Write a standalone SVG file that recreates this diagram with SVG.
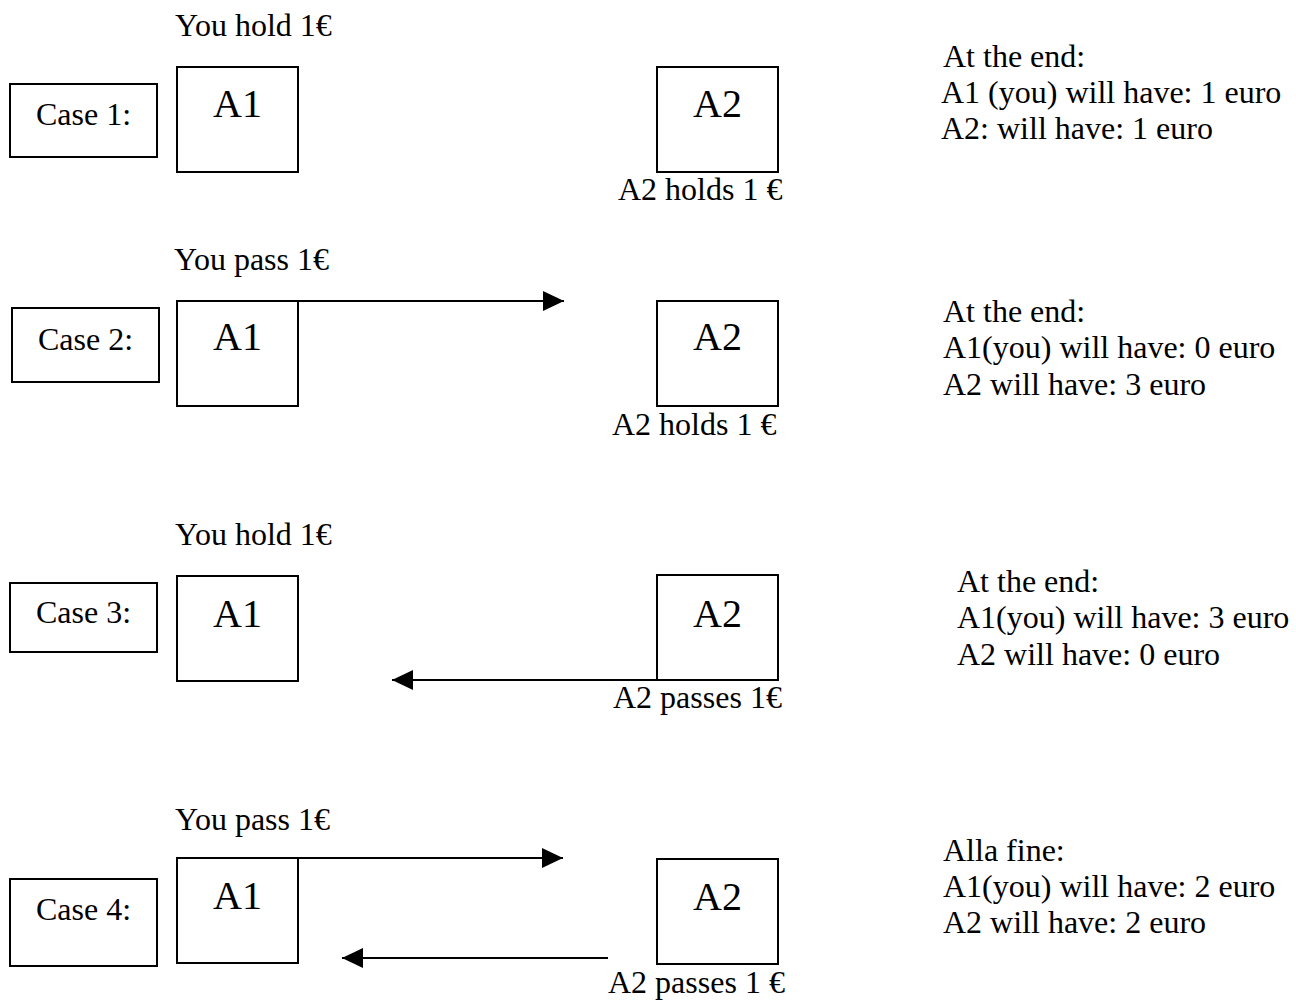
<svg xmlns="http://www.w3.org/2000/svg" width="1296" height="1000" viewBox="0 0 1296 1000">
<style>
  text { font-family: "Liberation Serif", "Times New Roman", serif; font-size: 32px; fill: #000; }
  .big { font-size: 40px; text-anchor: middle; }
  .box { fill: #fff; stroke: #000; stroke-width: 2; }
  .conn { stroke: #000; stroke-width: 2; fill: none; }
</style>
<defs>
  <marker id="ah" markerWidth="21" markerHeight="20" refX="21" refY="10" orient="auto" markerUnits="userSpaceOnUse">
    <path d="M0,0 L21,10 L0,20 Z" fill="#000"/>
  </marker>
</defs>
<rect width="1296" height="1000" fill="#fff"/>

<!-- Case 1 -->
<g id="case1-label"><rect class="box" x="10" y="84" width="147" height="73"/><text x="36" y="125">Case 1:</text></g>
<g id="case1-a1"><text x="175" y="36">You hold 1€</text><rect class="box" x="177" y="67" width="121" height="105"/><text class="big" x="237.5" y="117">A1</text></g>
<g id="case1-a2"><rect class="box" x="657" y="67" width="121" height="105"/><text class="big" x="717.5" y="117">A2</text><text x="618" y="200">A2 holds 1 €</text></g>
<g id="case1-result"><text x="943" y="67">At the end:</text><text x="941" y="103">A1 (you) will have: 1 euro</text><text x="941" y="139">A2: will have: 1 euro</text></g>

<!-- Case 2 -->
<g id="case2-label"><rect class="box" x="12" y="308" width="147" height="74"/><text x="38" y="350">Case 2:</text></g>
<g id="case2-a1"><text x="174" y="270">You pass 1€</text><rect class="box" x="177" y="301" width="121" height="105"/><text class="big" x="237.5" y="350">A1</text></g>
<g id="case2-a2"><rect class="box" x="657" y="301" width="121" height="105"/><text class="big" x="717.5" y="350">A2</text><text x="612" y="435">A2 holds 1 €</text></g>
<g id="case2-result"><text x="943" y="322">At the end:</text><text x="943" y="358">A1(you) will have: 0 euro</text><text x="943" y="395">A2 will have: 3 euro</text></g>

<!-- Case 3 -->
<g id="case3-label"><rect class="box" x="10" y="583" width="147" height="69"/><text x="36" y="623">Case 3:</text></g>
<g id="case3-a1"><text x="175" y="545">You hold 1€</text><rect class="box" x="177" y="576" width="121" height="105"/><text class="big" x="237.5" y="627">A1</text></g>
<g id="case3-a2"><rect class="box" x="657" y="575" width="121" height="105"/><text class="big" x="717.5" y="627">A2</text><text x="613" y="708">A2 passes 1€</text></g>
<g id="case3-result"><text x="957" y="592">At the end:</text><text x="957" y="628">A1(you) will have: 3 euro</text><text x="957" y="665">A2 will have: 0 euro</text></g>

<!-- Case 4 -->
<g id="case4-label"><rect class="box" x="10" y="879" width="147" height="87"/><text x="36" y="920">Case 4:</text></g>
<g id="case4-a1"><text x="175" y="830">You pass 1€</text><rect class="box" x="177" y="858" width="121" height="105"/><text class="big" x="237.5" y="909">A1</text></g>
<g id="case4-a2"><rect class="box" x="657" y="859" width="121" height="105"/><text class="big" x="717.5" y="910">A2</text><text x="608" y="993">A2 passes 1 €</text></g>
<g id="case4-result"><text x="943" y="861">Alla fine:</text><text x="943" y="897">A1(you) will have: 2 euro</text><text x="943" y="933">A2 will have: 2 euro</text></g>

<!-- Connectors -->
<g id="connectors">
  <line class="conn" x1="298" y1="301" x2="564" y2="301" marker-end="url(#ah)"/>
  <line class="conn" x1="657" y1="680" x2="392" y2="680" marker-end="url(#ah)"/>
  <line class="conn" x1="298" y1="858" x2="563" y2="858" marker-end="url(#ah)"/>
  <line class="conn" x1="608" y1="958" x2="342" y2="958" marker-end="url(#ah)"/>
</g>
</svg>
